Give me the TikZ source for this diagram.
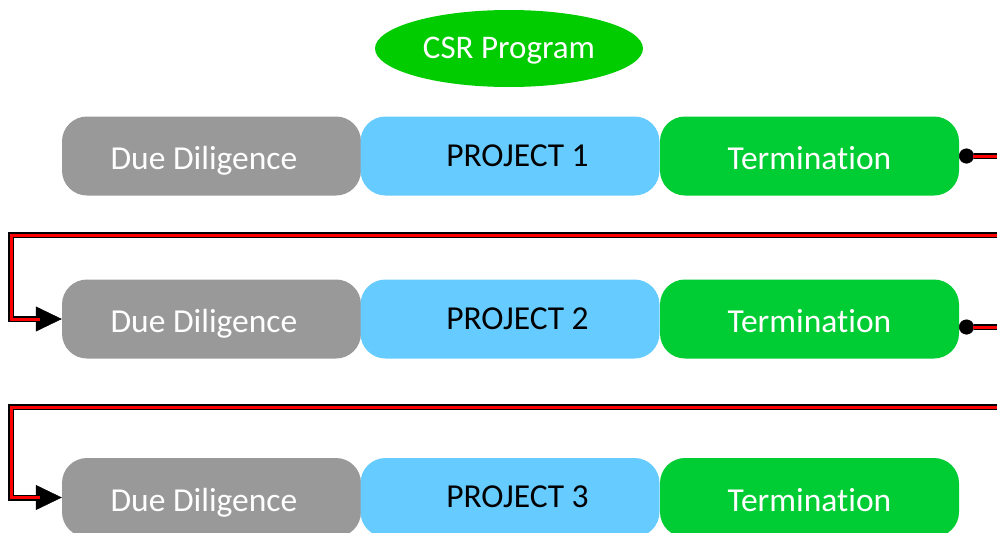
\documentclass[tikz,border=0pt]{standalone}
\usepackage{fontspec}
\setmainfont{Carlito}[Ligatures=NoCommon]
\usetikzlibrary{shapes.geometric,arrows.meta}
\definecolor{ddgray}{HTML}{999999}
\definecolor{projblue}{HTML}{66CCFF}
\definecolor{termgreen}{HTML}{00CC33}
\definecolor{csrgreen}{HTML}{00CC00}
\tikzset{
  stage/.style={rounded corners=25pt, minimum width=299pt, minimum height=79pt,
    inner sep=0pt, font=\fontsize{33.5}{40}\selectfont,
    text height=27pt, text depth=0pt},
  ddbox/.style={stage, fill=ddgray, text=white},
  projbox/.style={stage, fill=projblue, text=black, text height=20pt},
  termbox/.style={stage, fill=termgreen, text=white},
  program/.style={ellipse, fill=csrgreen, text=white, minimum width=268pt,
    minimum height=77pt, inner sep=0pt, font=\fontsize{33}{40}\selectfont,
    text height=20pt, text depth=0pt},
  cableout/.style={draw=black, line width=6pt, {Circle[length=15pt,line width=0.5pt]}-,
    postaction={draw=red, line width=3pt, -, shorten <=14pt}},
  cablein/.style={draw=black, line width=6pt, -{Triangle[length=26pt,width=25pt,line width=0.5pt]},
    postaction={draw=red, line width=3pt, -, shorten >=22pt}},
}
\begin{document}
\begin{tikzpicture}[x=1pt,y=-1pt]
  \useasboundingbox (0,0) rectangle (997,533);
  \clip (0,0) rectangle (997,533);

  % title
  \node[program] (csr) at (509,48.5) {CSR Program};

  % project rows
  \node[ddbox]   (dd1) at (211.5,156) {Due Diligence\hspace*{15pt}};
  \node[projbox] (pj1) at (510,156)   {\hspace*{15pt}PROJECT 1};
  \node[termbox] (tm1) at (809.5,156) {Termination};

  \node[ddbox]   (dd2) at (211.5,319) {Due Diligence\hspace*{15pt}};
  \node[projbox] (pj2) at (510,319)   {\hspace*{15pt}PROJECT 2};
  \node[termbox] (tm2) at (809.5,319) {Termination};

  \node[ddbox]   (dd3) at (211.5,497.5) {Due Diligence\hspace*{15pt}};
  \node[projbox] (pj3) at (510,497.5)   {\hspace*{15pt}PROJECT 3};
  \node[termbox] (tm3) at (809.5,497.5) {Termination};

  % hand-over connectors, running off the right edge and back
  \coordinate (o1) at (959,156);
  \coordinate (e1) at (1005,156);
  \coordinate (r1) at (1005,235);
  \coordinate (l1) at (11,235);
  \coordinate (o2) at (959,327);
  \coordinate (e2) at (1005,327);
  \coordinate (r2) at (1005,407);
  \coordinate (l2) at (11,407);

  \draw[cableout] (o1) -- (e1);
  \draw[cablein] (r1) -- (l1) |- (dd2.west);
  \draw[cableout] (o2) -- (e2);
  \draw[cablein] (r2) -- (l2) |- (dd3.west);
\end{tikzpicture}
\end{document}
